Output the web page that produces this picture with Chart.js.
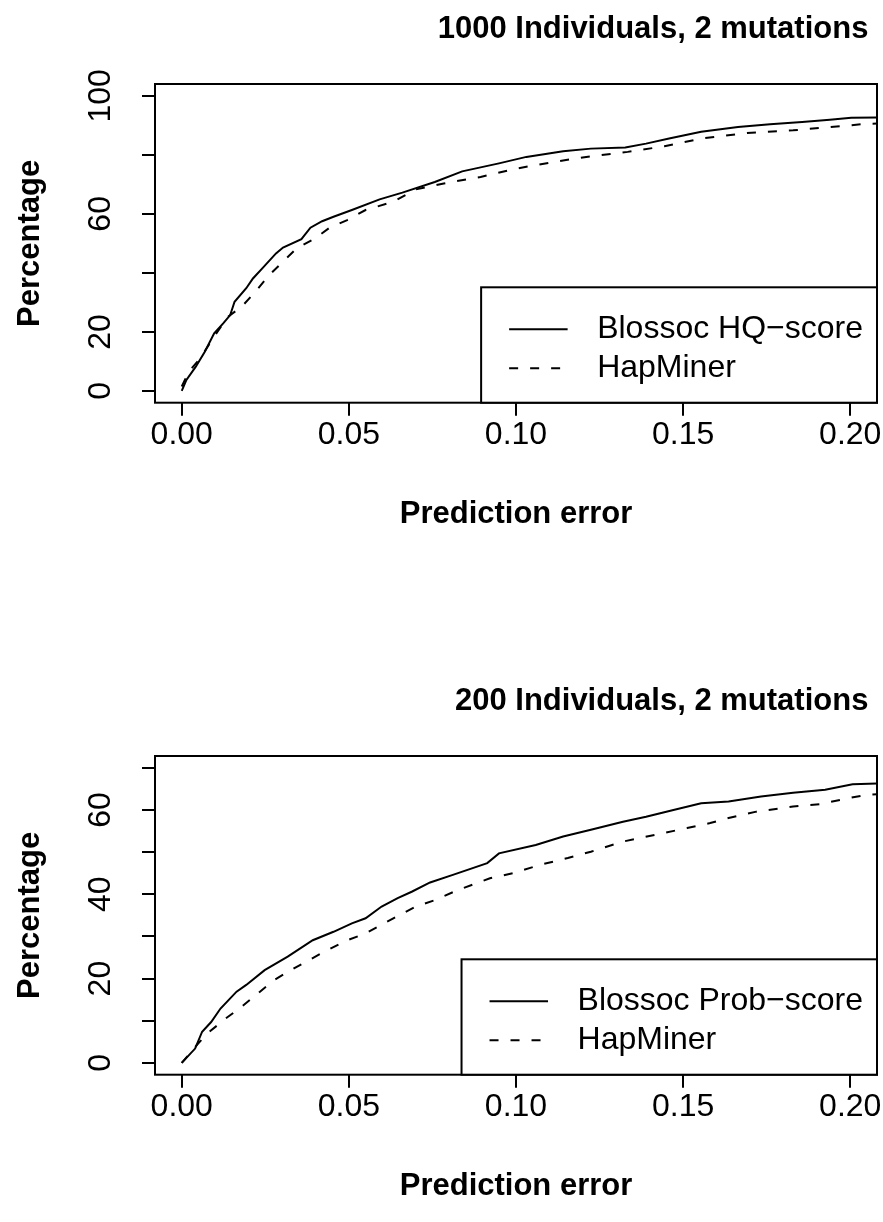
<!DOCTYPE html>
<html>
<head>
<meta charset="utf-8">
<script src="https://cdn.jsdelivr.net/npm/chart.js@4.4.1/dist/chart.umd.min.js"></script>
<style>
html, body { margin: 0; padding: 0; background: #fff; }
#wrap { width: 883px; height: 1222px; overflow: hidden; }
canvas { display: block; }
</style>
</head>
<body>
<div id="wrap">
	<canvas id="chartTop" width="883" height="672" style="width:883px;height:672px"></canvas>
	<canvas id="chartBottom" width="883" height="672" style="width:883px;height:672px"></canvas>
</div>
<script>
// tick values shared by both panels
var xTicks = [0, 0.05, 0.10, 0.15, 0.20];

// 1000 individuals
var topTitle = '1000 Individuals, 2 mutations';
var topYTicks = [0, 20, 40, 60, 80, 100];
var topYLabels = [0, 20, 60, 100];
var errHQ = [0, 0.0014, 0.0042, 0.0069, 0.0097, 0.0124, 0.0145, 0.0158, 0.0193, 0.0213, 0.0241, 0.0282, 0.0303, 0.0358, 0.0385, 0.0420, 0.0454, 0.0509, 0.0592, 0.0660, 0.0757, 0.0839, 0.0949, 0.1031, 0.1141, 0.1224, 0.1327, 0.1389, 0.1458, 0.1554, 0.1664, 0.1760, 0.1856, 0.1939, 0.2003, 0.2100];
var pctHQ = [0, 3.7, 8.2, 13.3, 19.5, 22.9, 25.7, 30.2, 34.8, 38.1, 41.5, 46.6, 48.6, 51.4, 55.3, 57.5, 59.0, 61.3, 64.9, 67.2, 70.8, 74.4, 77.1, 79.3, 81.2, 82.1, 82.5, 83.8, 85.5, 87.8, 89.4, 90.4, 91.1, 91.9, 92.6, 92.7];
var errHap1000 = [0, 0.0021, 0.0055, 0.0097, 0.0138, 0.0179, 0.0220, 0.0262, 0.0303, 0.0344, 0.0399, 0.0440, 0.0495, 0.0550, 0.0633, 0.0701, 0.0784, 0.0894, 0.1004, 0.1114, 0.1210, 0.1334, 0.1444, 0.1554, 0.1691, 0.1829, 0.1939, 0.2049, 0.2100];
var pctHap1000 = [1.5, 6.5, 11.0, 18.4, 25.1, 28.5, 33.6, 39.3, 43.8, 48.3, 51.7, 55.1, 57.9, 61.3, 64.1, 68.3, 70.3, 72.5, 75.4, 77.6, 79.3, 81.0, 82.9, 85.5, 87.4, 88.3, 89.4, 90.5, 90.7];

// 200 individuals
var bottomTitle = '200 Individuals, 2 mutations';
var bottomYTicks = [0, 10, 20, 30, 40, 50, 60, 70];
var bottomYLabels = [0, 20, 40, 60];
var errProb = [0, 0.0040, 0.0061, 0.0088, 0.0116, 0.0164, 0.0193, 0.0248, 0.0317, 0.0392, 0.0454, 0.0509, 0.0550, 0.0598, 0.0646, 0.0688, 0.0743, 0.0811, 0.0914, 0.0949, 0.1059, 0.1141, 0.1224, 0.1320, 0.1389, 0.1471, 0.1554, 0.1636, 0.1733, 0.1829, 0.1925, 0.2007, 0.2100];
var pctProb = [0, 3.4, 7.4, 9.7, 12.9, 16.9, 18.5, 22.0, 25.2, 29.1, 31.1, 33.1, 34.3, 37.1, 39.1, 40.6, 42.8, 44.6, 47.4, 49.7, 51.7, 53.7, 55.3, 57.2, 58.4, 60.0, 61.6, 62.0, 63.2, 64.1, 64.8, 66.1, 66.3];
var errHap200 = [0, 0.0049, 0.0083, 0.0131, 0.0179, 0.0234, 0.0275, 0.0344, 0.0427, 0.0495, 0.0550, 0.0633, 0.0701, 0.0757, 0.0826, 0.0922, 0.0990, 0.1073, 0.1155, 0.1224, 0.1320, 0.1416, 0.1512, 0.1581, 0.1636, 0.1719, 0.1829, 0.1911, 0.1994, 0.2049, 0.2100];
var pctHap200 = [0, 4.6, 7.4, 10.5, 13.3, 16.9, 19.6, 22.8, 26.4, 29.1, 30.7, 34.3, 37.1, 38.6, 41.0, 43.8, 45.0, 47.0, 48.6, 50.1, 52.5, 54.1, 55.7, 56.9, 58.1, 59.6, 60.8, 61.4, 62.8, 63.6, 63.8];

var FONT = '"Liberation Sans", Arial, Helvetica, sans-serif';
Chart.defaults.font.family = FONT;
Chart.defaults.color = '#000';

function toPoints(xs, ys) {
	return xs.map(function(x, i) { return {x: x, y: ys[i]}; });
}

// R style box round the plot region
var rBoxPlugin = {
	id: 'rBox',
	afterDatasetsDraw: function(chart) {
		var a = chart.chartArea, ctx = chart.ctx;
		ctx.save();
		ctx.strokeStyle = '#000';
		ctx.lineWidth = 2;
		ctx.strokeRect(a.left, a.top, a.right - a.left, a.bottom - a.top);
		ctx.restore();
	}
};

// R style legend in the bottom right corner
var rLegendPlugin = {
	id: 'rLegend',
	afterDraw: function(chart) {
		var a = chart.chartArea, ctx = chart.ctx;
		var items = chart.data.datasets;
		ctx.save();
		ctx.font = '32px ' + FONT;
		var tw = 0;
		items.forEach(function(d) { tw = Math.max(tw, ctx.measureText(d.label).width); });
		var right = a.right, bottom = a.bottom, top = a.top + 203.3;
		var left = right - (116 + tw + 14);
		ctx.fillStyle = '#fff';
		ctx.fillRect(left, top, right - left, bottom - top);
		ctx.strokeStyle = '#000';
		ctx.lineWidth = 2;
		ctx.strokeRect(left, top, right - left, bottom - top);
		items.forEach(function(d, i) {
			var y = top + 42 + i * 39;
			ctx.setLineDash(d.borderDash || []);
			ctx.beginPath();
			ctx.moveTo(left + 28, y);
			ctx.lineTo(left + 86.5, y);
			ctx.stroke();
			ctx.setLineDash([]);
			ctx.fillStyle = '#000';
			ctx.textAlign = 'left';
			ctx.textBaseline = 'middle';
			ctx.fillText(d.label, left + 116, y);
		});
		ctx.restore();
	}
};

function labelPadding(labels) {
	var c = document.createElement('canvas').getContext('2d');
	c.font = '32px ' + FONT;
	var w = 0;
	labels.forEach(function(v) { w = Math.max(w, c.measureText(String(v)).width); });
	return 155 - 13 - 101 - w / 2;
}

function loadPanel(id, title, yMin, yMax, yTicks, yLabels, datasets) {
	var el = document.getElementById(id);
	return new Chart(el, {
		type: 'line',
		data: { datasets: datasets },
		options: {
			responsive: false,
			animation: false,
			devicePixelRatio: 1,
			layout: { padding: { left: 0, right: 6, top: 0, bottom: 0 } },
			elements: { point: { radius: 0 }, line: { tension: 0 } },
			plugins: {
				legend: { display: false },
				tooltip: { enabled: false },
				title: {
					display: true,
					text: title + ' ',
					align: 'end',
					color: '#000',
					font: { size: 31, weight: 'bold' },
					padding: { top: 10.4, bottom: 36.4 }
				}
			},
			scales: {
				x: {
					type: 'linear',
					min: -0.008,
					max: 0.208,
					afterBuildTicks: function(s) { s.ticks = xTicks.map(function(v) { return {value: v}; }); },
					afterFit: function(s) {
						s.height = 672 - 402.7;
						s.paddingLeft = 0;
						s.paddingRight = 0;
					},
					grid: { drawOnChartArea: false, drawTicks: true, tickLength: 13, color: '#000', lineWidth: 2 },
					border: { display: false },
					ticks: {
						autoSkip: false, minRotation: 0, maxRotation: 0, padding: 3.3,
						color: '#000', font: { size: 32, lineHeight: 1 },
						callback: function(v) { return Number(v).toFixed(2); }
					},
					title: {
						display: true, text: 'Prediction error', color: '#000',
						font: { size: 31, weight: 'bold' },
						padding: { top: 0, bottom: 139.4 }
					}
				},
				y: {
					type: 'linear',
					min: yMin,
					max: yMax,
					afterBuildTicks: function(s) { s.ticks = yTicks.map(function(v) { return {value: v}; }); },
					afterFit: function(s) { s.width = 155; },
					grid: { drawOnChartArea: false, drawTicks: true, tickLength: 13, color: '#000', lineWidth: 2 },
					border: { display: false },
					ticks: {
						autoSkip: false, minRotation: 90, maxRotation: 90, crossAlign: 'center',
						padding: labelPadding(yLabels),
						color: '#000', font: { size: 32 },
						callback: function(v) { return yLabels.indexOf(v) >= 0 ? String(v) : ''; }
					},
					title: {
						display: true, text: 'Percentage', color: '#000',
						font: { size: 31, weight: 'bold' },
						padding: { top: 11.4, bottom: 0 }
					}
				}
			}
		},
		plugins: [rBoxPlugin, rLegendPlugin]
	});
}

window.chartTop = loadPanel('chartTop', topTitle, -4, 104, topYTicks, topYLabels, [
	{
		label: 'Blossoc HQ\u2212score',
		borderColor: '#000',
		borderWidth: 2,
		data: toPoints(errHQ, pctHQ)
	},
	{
		label: 'HapMiner',
		borderColor: '#000',
		borderWidth: 2,
		borderDash: [9, 12],
		data: toPoints(errHap1000, pctHap1000)
	}
]);

window.chartBottom = loadPanel('chartBottom', bottomTitle, -2.8, 72.8, bottomYTicks, bottomYLabels, [
	{
		label: 'Blossoc Prob\u2212score',
		borderColor: '#000',
		borderWidth: 2,
		data: toPoints(errProb, pctProb)
	},
	{
		label: 'HapMiner',
		borderColor: '#000',
		borderWidth: 2,
		borderDash: [9, 12],
		data: toPoints(errHap200, pctHap200)
	}
]);
</script>
</body>
</html>
